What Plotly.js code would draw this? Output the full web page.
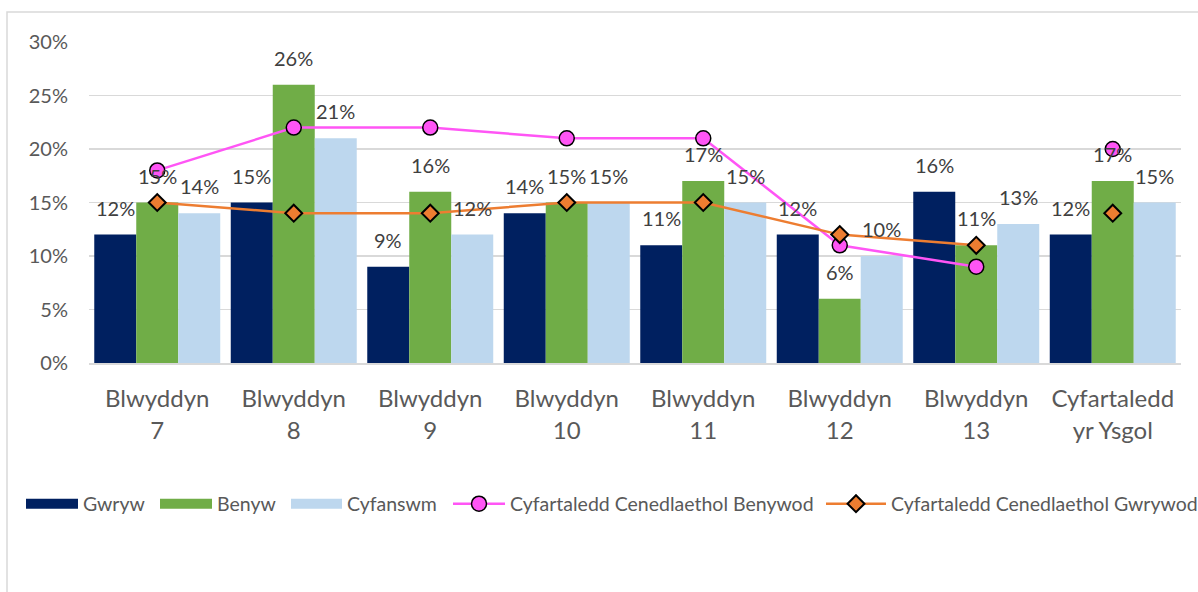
<!DOCTYPE html>
<html>
<head>
<meta charset="utf-8">
<script src="https://cdn.plot.ly/plotly-3.0.1.min.js"></script>
<style>
html,body{margin:0;padding:0;background:#fff;}
#chart{width:1198px;height:592px;}
</style>
</head>
<body>
<div id="chart"></div>
<script>
var categories = ["Blwyddyn<br>7","Blwyddyn<br>8","Blwyddyn<br>9","Blwyddyn<br>10","Blwyddyn<br>11","Blwyddyn<br>12","Blwyddyn<br>13","Cyfartaledd<br>yr Ysgol"];
var gwryw = [12,15,9,14,11,12,16,12];
var benyw = [15,26,16,15,17,6,11,17];
var cyfanswm = [14,21,12,15,15,10,13,15];
var natBenywod = [18,22,22,21,21,11,9,20];
var natGwrywod = [15,14,14,15,15,12,11,14];
var seriesNames = ["Gwryw","Benyw","Cyfanswm","Cyfartaledd Cenedlaethol Benywod","Cyfartaledd Cenedlaethol Gwrywod"];
var yTicks = [0,5,10,15,20,25,30];

var FONT = "Lato, 'Open Sans', sans-serif";
var barColors = ["#002060","#70AD47","#BDD7EE"];
var pink = "#FF55F5";
var orange = "#ED7D31";
var bargap = 0.077;

// plot-area geometry (px) used for legend placement
var PL = 89, PW = 1092, PT = 42, PH = 321;
function px2x(p){ return (p-PL)/PW; }
function py2y(p){ return (PT+PH-p)/PH; }

var legendIds = ["legend","legend2","legend3","legend4","legend5"];
var legendStart = [21, 155, 286, 448, 821];
var legendItemW = [52, 52, 51, 52, 60];

var barSeries = [gwryw, benyw, cyfanswm];
var traces = [];
barSeries.forEach(function(vals, j){
  traces.push({
    type:"bar", name:seriesNames[j], x:categories, y:vals,
    marker:{color:barColors[j]}, hoverinfo:"y", showlegend:false, legendgroup:"g"+j
  });
  // legend key drawn as a wide swatch (no data)
  traces.push({
    type:"scatter", mode:"lines", name:seriesNames[j], x:[null], y:[null],
    line:{color:barColors[j], width:12}, legendgroup:"g"+j, legend:legendIds[j],
    hoverinfo:"skip"
  });
});
var nLine = 7;
traces.push({
  type:"scatter", mode:"lines+markers", name:seriesNames[3], legend:legendIds[3],
  x:categories.slice(0,nLine), y:natBenywod.slice(0,nLine),
  line:{color:pink,width:2.5},
  marker:{symbol:"circle",size:15,color:pink,line:{color:"#000",width:1.5}}
});
traces.push({
  type:"scatter", mode:"markers", name:seriesNames[3], showlegend:false,
  x:categories.slice(nLine), y:natBenywod.slice(nLine),
  marker:{symbol:"circle",size:15,color:pink,line:{color:"#000",width:1.5}}
});
traces.push({
  type:"scatter", mode:"lines+markers", name:seriesNames[4], legend:legendIds[4],
  x:categories.slice(0,nLine), y:natGwrywod.slice(0,nLine),
  line:{color:orange,width:2.5},
  marker:{symbol:"diamond",size:13,color:orange,line:{color:"#000",width:2}}
});
traces.push({
  type:"scatter", mode:"markers", name:seriesNames[4], showlegend:false,
  x:categories.slice(nLine), y:natGwrywod.slice(nLine),
  marker:{symbol:"diamond",size:13,color:orange,line:{color:"#000",width:2}}
});

var barW = (1-bargap)/3;
var annotations = [];
barSeries.forEach(function(vals, j){
  vals.forEach(function(v, i){
    annotations.push({
      xref:"x", yref:"y", x:i+(j-1)*barW, y:v,
      text:v+"%", showarrow:false, yanchor:"bottom", xanchor:"center",
      yshift:13, font:{family:FONT,size:20,color:"#404040"}
    });
  });
});

var layout = {
  width:1198, height:592,
  margin:{l:PL,r:1198-PL-PW,t:PT,b:592-PT-PH,autoexpand:false},
  paper_bgcolor:"#fff", plot_bgcolor:"#fff",
  font:{family:FONT,color:"#595959"},
  barmode:"group", bargap:bargap, bargroupgap:0,
  showlegend:true,
  xaxis:{type:"category", tickfont:{family:FONT,size:24,color:"#595959"},
    showgrid:false, showline:true, linecolor:"#d9d9d9", linewidth:1.5,
    ticks:"", ticklabelstandoff:14, fixedrange:true, automargin:false},
  yaxis:{range:[0,30], tickvals:yTicks, ticktext:yTicks.map(function(t){return t+"%";}),
    tickfont:{family:FONT,size:20,color:"#595959"},
    showgrid:true, gridcolor:"#d9d9d9", gridwidth:1.5, zeroline:false,
    ticks:"", ticklabelstandoff:20, fixedrange:true, automargin:false},
  annotations:annotations,
  shapes:[{type:"rect", xref:"paper", yref:"paper",
    x0:px2x(7), x1:px2x(1205), y0:py2y(600), y1:py2y(12),
    line:{color:"#d9d9d9",width:1.5}, fillcolor:"rgba(0,0,0,0)", layer:"below"}]
};
legendIds.forEach(function(id, k){
  layout[id] = {orientation:"h", x:px2x(legendStart[k]), xanchor:"left",
    y:py2y(504), yanchor:"middle", itemwidth:legendItemW[k],
    font:{family:FONT,size:19.5,color:"#595959"}, bgcolor:"rgba(0,0,0,0)"};
});

Plotly.newPlot("chart", traces, layout, {displayModeBar:false, staticPlot:true});
</script>
</body>
</html>
